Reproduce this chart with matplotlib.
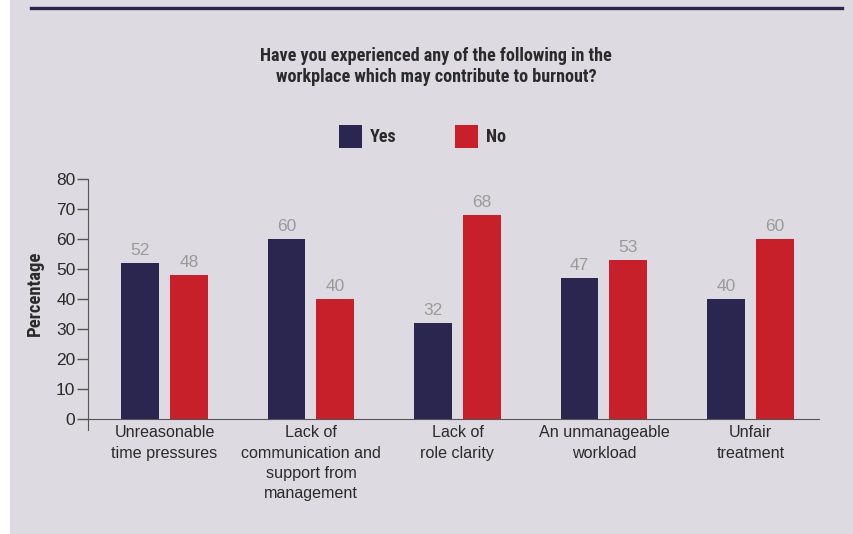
import numpy as np
import matplotlib.pyplot as plt
from matplotlib.patches import Rectangle
from matplotlib.lines import Line2D

# texto normal tipo Arial, negrita condensada para titulos
normal = ['Liberation Sans', 'DejaVu Sans']
negrita = ['Roboto Condensed', 'PT Sans Narrow', 'Liberation Sans', 'DejaVu Sans']
plt.rcParams['font.family'] = normal

# datos
categorias = ['Unreasonable\ntime pressures',
              'Lack of\ncommunication and\nsupport from\nmanagement',
              'Lack of\nrole clarity',
              'An unmanageable\nworkload',
              'Unfair\ntreatment']
si = [52, 60, 32, 47, 40]
no = [48, 40, 68, 53, 60]

c_si = '#2b2650'
c_no = '#c8202a'
fondo = '#dddbe1'
texto = '#2a2a2a'

fig = plt.figure(figsize=(8.54, 5.34), dpi=100)
fig.patch.set_facecolor('white')
fig.add_artist(Rectangle((10 / 854, 0), 1, 1, transform=fig.transFigure,
                         facecolor=fondo, edgecolor='none', zorder=-10))
fig.add_artist(Line2D([31 / 854, 842 / 854], [1 - 7.5 / 534, 1 - 7.5 / 534],
                      transform=fig.transFigure, color=c_si, lw=2.4))

ax = fig.add_axes([88 / 854, 1 - 430 / 534, (819 - 88) / 854, (430 - 179) / 534])
ax.set_facecolor('none')

x = np.arange(len(categorias))
w = 0.259
d = 0.167
b1 = ax.bar(x - d, si, w, color=c_si, label='Yes')
b2 = ax.bar(x + d, no, w, color=c_no, label='No')

for barras, vals in [(b1, si), (b2, no)]:
    for b, v in zip(barras, vals):
        ax.text(b.get_x() + b.get_width() / 2, v + 1.8, str(v), ha='center', va='bottom',
                color='#9a9a9a', fontsize=12.5)

ax.set_xlim(-0.522, 4.468)
ax.set_ylim(-3.67, 80)
ax.set_yticks(np.arange(0, 81, 10))
ax.tick_params(axis='y', length=8, width=1, color='#555555', labelsize=12.5,
               labelcolor=texto, pad=1)
ax.set_xticks(x)
ax.set_xticklabels([])
ax.tick_params(axis='x', length=0)

# etiquetas de categoria como texto propio (para controlar el interlineado)
for xi, cat in zip(x, categorias):
    ax.annotate(cat, (xi, 0), xytext=(0, -4.5), textcoords='offset points',
                ha='center', va='top', fontsize=11.6, color=texto, linespacing=1.45,
                annotation_clip=False)

for s in ['top', 'right']:
    ax.spines[s].set_visible(False)
ax.spines['bottom'].set_position(('data', 0))
ax.spines['bottom'].set_color('#555555')
ax.spines['left'].set_color('#555555')

fig.text(35 / 854, 1 - 293 / 534, 'Percentage', rotation=90, ha='center', va='center',
         fontsize=13.4, fontweight='bold', color=texto, family=negrita)

fig.text(436 / 854, 1 - 66.5 / 534,
         'Have you experienced any of the following in the\nworkplace which may contribute to burnout?',
         ha='center', va='center', fontsize=13.1, fontweight='bold', color=texto,
         linespacing=1.25, family=negrita)

# leyenda manual
for x0, txt, col in [(339, 'Yes', c_si), (455, 'No', c_no)]:
    fig.add_artist(Rectangle((x0 / 854, 1 - 148 / 534), 23 / 854, 23 / 534,
                             transform=fig.transFigure, facecolor=col, edgecolor='none'))
    fig.text((x0 + 31) / 854, 1 - 137 / 534, txt, ha='left', va='center',
             fontsize=13, fontweight='bold', color=texto, family=negrita)

fig.savefig('out.png', dpi=100)
